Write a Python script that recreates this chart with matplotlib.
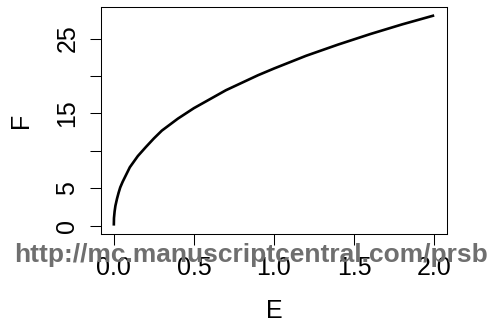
import matplotlib
matplotlib.use("Agg")
import matplotlib.pyplot as plt

plt.rcParams['font.family'] = ['Liberation Sans', 'DejaVu Sans']

# Values
E = [0.0, 0.001, 0.005, 0.01, 0.02, 0.03, 0.04, 0.055, 0.07, 0.1, 0.15, 0.2, 0.25,
     0.3, 0.35, 0.4, 0.45, 0.5, 0.6, 0.7, 0.8, 0.9, 1.0, 1.2, 1.4, 1.6, 1.8, 2.0]
F = [0.0, 1.0, 1.9, 2.65, 3.6, 4.4, 5.1, 5.85, 6.5, 7.8, 9.3, 10.5, 11.65,
     12.7, 13.5, 14.3, 15.0, 15.7, 16.9, 18.1, 19.1, 20.1, 21.0, 22.7, 24.2, 25.6, 26.9, 28.1]

x_ticks = [0.0, 0.5, 1.0, 1.5, 2.0]
x_tick_labels = ['0.0', '0.5', '1.0', '1.5', '2.0']
y_ticks = [0, 5, 10, 15, 20, 25]
y_tick_labels = ['0', '5', '', '15', '', '25']
x_label = 'E'
y_label = 'F'
watermark = 'http://mc.manuscriptcentral.com/prsb'

W, H = 493, 322
fig = plt.figure(figsize=(W / 100, H / 100), dpi=100)
L, R, T, B = 101, 447, 7, 234
ax = fig.add_axes([L / W, 1 - B / H, (R - L) / W, (B - T) / H])

ax.plot(E, F, color='black', lw=1.9, solid_capstyle='butt', solid_joinstyle='round')

xr = max(E) - min(E)
yr = max(F) - min(F)
ax.set_xlim(min(E) - 0.04 * xr, max(E) + 0.04 * xr)
ax.set_ylim(min(F) - 0.04 * yr, max(F) + 0.04 * yr)

fs = 18
ax.set_xticks(x_ticks)
ax.set_xticklabels(x_tick_labels, fontsize=fs)
ax.set_yticks(y_ticks)
ax.set_yticklabels(y_tick_labels, fontsize=fs, rotation=90, va='center')
ax.tick_params(axis='both', length=7.6, width=0.75, color='black')
ax.tick_params(axis='x', pad=8)
ax.tick_params(axis='y', pad=8)
for s in ax.spines.values():
    s.set_linewidth(0.75)
    s.set_color('black')

fig.text(274 / W, 1 - 311 / H, x_label, ha='center', va='center', fontsize=fs)
fig.text(21 / W, 1 - 120.5 / H, y_label, ha='center', va='center', fontsize=fs, rotation=90)

fig.text(250.5 / W, 1 - 255 / H, watermark, ha='center', va='center', fontsize=19,
         fontweight='bold', color='#6f6f6f', zorder=10)

fig.savefig('out.png', dpi=100)
